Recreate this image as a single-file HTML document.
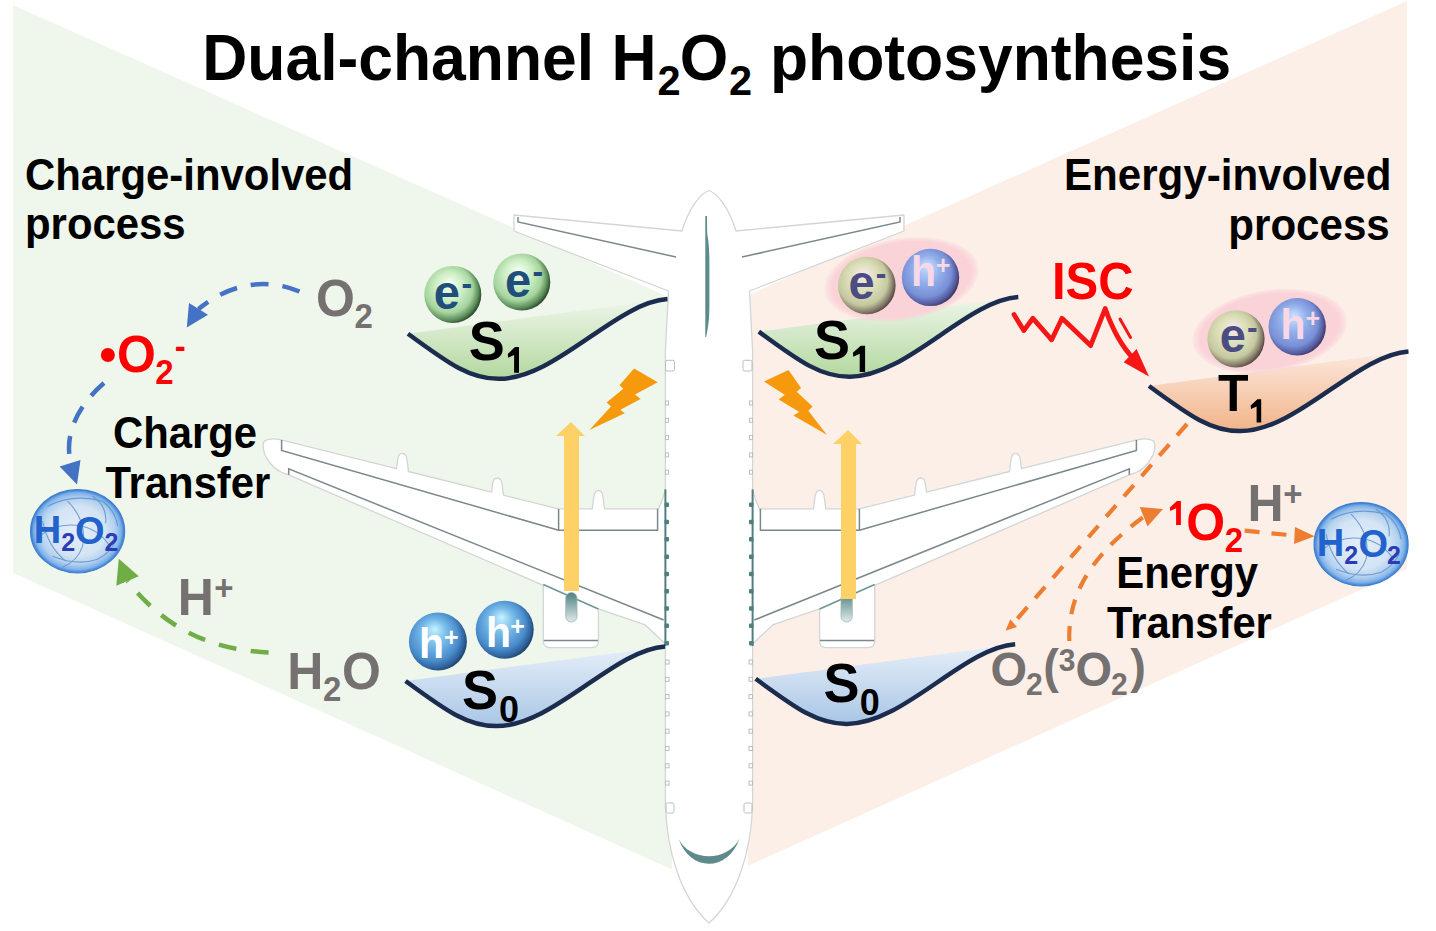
<!DOCTYPE html>
<html><head><meta charset="utf-8">
<style>
html,body{margin:0;padding:0;background:#fff;width:1436px;height:931px;overflow:hidden}
svg{display:block}
text{font-family:"Liberation Sans",sans-serif}
</style></head><body>
<svg width="1436" height="931" viewBox="0 0 1436 931">
<defs>
  <radialGradient id="gPk" cx="0.5" cy="0.5" r="0.5"><stop offset="0" stop-color="#fad3d8"/><stop offset="0.9" stop-color="#fad3d8"/><stop offset="1" stop-color="#fad3d8" stop-opacity="0.25"/></radialGradient>
  <linearGradient id="gS1" x1="0" y1="0" x2="0" y2="1">
    <stop offset="0" stop-color="#eef6ea"/><stop offset="1" stop-color="#b3d89f"/>
  </linearGradient>
  <linearGradient id="gS0" x1="0" y1="0" x2="0" y2="1">
    <stop offset="0" stop-color="#e6eff8"/><stop offset="1" stop-color="#a9c6e6"/>
  </linearGradient>
  <linearGradient id="gT1" x1="0" y1="0" x2="0" y2="1">
    <stop offset="0" stop-color="#fbe9de"/><stop offset="1" stop-color="#f2b48a"/>
  </linearGradient>
  <radialGradient id="bG" cx="0.42" cy="0.45" r="0.6" fx="0.45" fy="0.3">
    <stop offset="0" stop-color="#f6fff4"/><stop offset="0.4" stop-color="#cdeec6"/>
    <stop offset="0.7" stop-color="#a6d49e"/><stop offset="0.88" stop-color="#5a8a58"/><stop offset="1" stop-color="#1f3a22"/>
  </radialGradient>
  <radialGradient id="bB" cx="0.42" cy="0.45" r="0.6" fx="0.45" fy="0.28">
    <stop offset="0" stop-color="#c6f2ff"/><stop offset="0.35" stop-color="#78bdea"/>
    <stop offset="0.72" stop-color="#4a8ccc"/><stop offset="0.9" stop-color="#2d5f98"/><stop offset="1" stop-color="#1a3a62"/>
  </radialGradient>
  <radialGradient id="bE" cx="0.42" cy="0.45" r="0.6" fx="0.45" fy="0.3">
    <stop offset="0" stop-color="#fbe6ee"/><stop offset="0.4" stop-color="#dde0b9"/>
    <stop offset="0.72" stop-color="#c6c9a0"/><stop offset="0.9" stop-color="#7d7464"/><stop offset="1" stop-color="#4a3636"/>
  </radialGradient>
  <radialGradient id="bH" cx="0.42" cy="0.45" r="0.6" fx="0.45" fy="0.3">
    <stop offset="0" stop-color="#c8e2ff"/><stop offset="0.4" stop-color="#92aeea"/>
    <stop offset="0.72" stop-color="#7890d6"/><stop offset="0.9" stop-color="#52579a"/><stop offset="1" stop-color="#3a2e50"/>
  </radialGradient>
  <radialGradient id="bW" cx="0.5" cy="0.5" r="0.5">
    <stop offset="0" stop-color="#e4eef9"/><stop offset="0.6" stop-color="#d3e4f5"/>
    <stop offset="0.8" stop-color="#b3d0ef"/><stop offset="0.92" stop-color="#7fb3ea"/><stop offset="1" stop-color="#3a7cd0"/>
  </radialGradient>
</defs>

<!-- backgrounds -->
<polygon points="13.2,5.3 672,298.4 672,869.6 13.2,572.9" fill="#eff6eb"/>
<polygon points="747.7,295.5 1407,1 1407,569 747.7,866" fill="#fcefe8"/>

<!-- AIRPLANE -->
<path d="M709,190.5 C 700,194 689,208 682,231 L 514,215 L 514,231 L 668.5,291 L 665.4,351 L 665.4,489.4 Q 663,500 658.6,508.8 L 604.5,508.8 C 603,498.8 603.4,490.4 598.4,490.4 C 593.4,490.4 593.8,498.8 592.3,508.8 L 558.6,508.8 L 503.5,495.2 C 502,485.2 502.5,478 497.5,478 C 492.5,478 493,482.2 491.5,492.2 L 408.5,471.5 C 407,461.5 407.5,453.4 402.5,453.4 C 397.5,453.4 398,458.6 396.5,468.6 L 281,439.8 Q 270,437.5 264.5,441 Q 261.5,445 265,455 Q 273,471 288.2,474.7 L 543.3,585.3 L 543.3,641 Q 543.3,647.6 550,647.6 L 592,647.6 Q 598.4,647.6 598.4,641 L 598.4,608.8 L 644.7,624.6 L 663.5,642 L 665.4,644 L 665.4,806 C 667,850 680,897 709,923 C 738,897 751,850 752.6,806 L 752.6,644 L 754.5,642 L 773.3,624.6 L 819.6,608.8 L 819.6,641 Q 819.6,647.6 826,647.6 L 868,647.6 Q 874.7,647.6 874.7,641 L 874.7,585.3 L 1129.8,474.7 Q 1145,471 1153,455 Q 1156.5,445 1153.5,441 Q 1148,437.5 1137,439.8 L 1021.5,468.6 C 1020,458.6 1020.5,453.4 1015.5,453.4 C 1010.5,453.4 1011,461.5 1009.5,471.5 L 926.5,492.2 C 925,482.2 925.5,478 920.5,478 C 915.5,478 916,485.2 914.5,495.2 L 859.4,508.8 L 825.7,508.8 C 824.2,498.8 824.6,490.4 819.6,490.4 C 814.6,490.4 815,498.8 813.5,508.8 L 759.4,508.8 Q 755,500 752.6,489.4 L 752.6,351 L 749.5,291 L 904,231 L 904,215 L 736,231 C 729,208 718,194 709,190.5 Z" fill="#fff" stroke="#d3d6d6" stroke-width="1.3" stroke-linejoin="round"/>
<g fill="none" stroke="#7b878b" stroke-width="1.5"><polyline points="518,217 518,222 676,257"/><polyline points="900,217 900,222 742,257"/><polyline points="281.6,440 281.6,450.5 558.6,530.2 657.6,530.2 657.6,508.8"/><polyline points="1136.4,440 1136.4,450.5 859.4,530.2 760.4,530.2 760.4,508.8"/><polyline points="558.6,508.8 558.6,530.2"/><polyline points="859.4,508.8 859.4,530.2"/><polyline points="288.7,474.7 288.7,468.8 663.7,620"/><polyline points="1129.3,474.7 1129.3,468.8 754.3,620"/><polyline points="543.8,640.4 598,640.4"/><polyline points="874.2,640.4 820,640.4"/></g>
<g fill="none" stroke="#6f9595" stroke-width="1.6"><polyline points="543.3,584.6 598.4,609"/><polyline points="874.7,584.6 819.6,609"/></g>
<defs><linearGradient id="gPy" x1="0" y1="0" x2="0" y2="1"><stop offset="0" stop-color="#4f7f80"/><stop offset="1" stop-color="#dfeaea"/></linearGradient></defs>
<g fill="url(#gPy)" stroke="#9fb4b4" stroke-width="0.8"><rect x="565.7" y="592.5" width="11.3" height="29.5" rx="5.6"/><rect x="841" y="592.5" width="11.3" height="29.5" rx="5.6"/></g>
<g fill="#5d8a8a">
  <path d="M705.3,216 L706.9,216 L707.2,234 C 708.6,240 709.4,250 709.4,265 L 709.4,305 C 709.4,322 707.5,330 706.2,337 L 705.3,337 Z"/>
  <path d="M678.7,839 C 690,872 728,872 739.5,838.4 C 728,862 690,862 678.7,839 Z"/>
</g>
<g stroke="#4f7f7f" stroke-width="2" fill="none">
  <line x1="665.4" y1="489.4" x2="665.4" y2="646"/>
  <line x1="752.6" y1="489.4" x2="752.6" y2="646"/>
</g>
<g fill="#4f7f7f"><rect x="664.5" y="502.5" width="4.5" height="4.5" rx="1"/><rect x="749" y="502.5" width="4.5" height="4.5" rx="1"/><rect x="664.5" y="519.8" width="4.5" height="4.5" rx="1"/><rect x="749" y="519.8" width="4.5" height="4.5" rx="1"/><rect x="664.5" y="537.1" width="4.5" height="4.5" rx="1"/><rect x="749" y="537.1" width="4.5" height="4.5" rx="1"/><rect x="664.5" y="554.4" width="4.5" height="4.5" rx="1"/><rect x="749" y="554.4" width="4.5" height="4.5" rx="1"/><rect x="664.5" y="571.7" width="4.5" height="4.5" rx="1"/><rect x="749" y="571.7" width="4.5" height="4.5" rx="1"/><rect x="664.5" y="589" width="4.5" height="4.5" rx="1"/><rect x="749" y="589" width="4.5" height="4.5" rx="1"/><rect x="664.5" y="606.3" width="4.5" height="4.5" rx="1"/><rect x="749" y="606.3" width="4.5" height="4.5" rx="1"/><rect x="664.5" y="623.6" width="4.5" height="4.5" rx="1"/><rect x="749" y="623.6" width="4.5" height="4.5" rx="1"/><rect x="664.5" y="640.9" width="4.5" height="4.5" rx="1"/><rect x="749" y="640.9" width="4.5" height="4.5" rx="1"/></g>
<g fill="none" stroke="#b8c0c0" stroke-width="1"><rect x="665.5" y="660" width="3.5" height="4" /><rect x="749" y="660" width="3.5" height="4" /><rect x="665.5" y="677.3" width="3.5" height="4" /><rect x="749" y="677.3" width="3.5" height="4" /><rect x="665.5" y="694.6" width="3.5" height="4" /><rect x="749" y="694.6" width="3.5" height="4" /><rect x="665.5" y="711.9" width="3.5" height="4" /><rect x="749" y="711.9" width="3.5" height="4" /><rect x="665.5" y="729.2" width="3.5" height="4" /><rect x="749" y="729.2" width="3.5" height="4" /><rect x="665.5" y="746.5" width="3.5" height="4" /><rect x="749" y="746.5" width="3.5" height="4" /><rect x="665.5" y="763.8" width="3.5" height="4" /><rect x="749" y="763.8" width="3.5" height="4" /><rect x="665.5" y="781.1" width="3.5" height="4" /><rect x="749" y="781.1" width="3.5" height="4" /><rect x="665.5" y="401" width="3" height="4" /><rect x="749.5" y="401" width="3" height="4" /><rect x="665.5" y="418.3" width="3" height="4" /><rect x="749.5" y="418.3" width="3" height="4" /><rect x="665.5" y="435.6" width="3" height="4" /><rect x="749.5" y="435.6" width="3" height="4" /><rect x="665.5" y="452.9" width="3" height="4" /><rect x="749.5" y="452.9" width="3" height="4" /><rect x="665.5" y="470.2" width="3" height="4" /><rect x="749.5" y="470.2" width="3" height="4" /><rect x="665.5" y="360.3" width="9" height="10.7" rx="1.5"/><rect x="743" y="360.3" width="9" height="10.7" rx="1.5"/><rect x="666" y="803" width="8" height="10" rx="1.5"/><rect x="744" y="803" width="8" height="10" rx="1.5"/></g>

<!-- yellow arrows -->
<g fill="#fdd165">
  <polygon points="564,591 579,591 579,436 585,436 571,422 556,436 564,436"/>
  <polygon points="841,599 856,599 856,444 862,444 848,430 833,444 841,444"/>
</g>
<!-- bolts -->
<g fill="#f7990c">
  <polygon points="634.1,368.6 657.7,382.3 635,394.4 640.6,399 620.4,409.8 624.7,413.3 589.4,430 611,406.4 606.6,402.5 623.4,388.8 619.5,385.3"/>
  <polygon points="788.5,369.9 764,381.5 784.7,394.8 778.7,399.5 799.3,412 793.3,415.4 826.8,434.7 808.3,410.7 812.6,406.4 796.7,391.8 801,387.9"/>
</g>

<!-- wells -->
<path d="M408,333.7 C 450.5,365 470.5,378.8 498.5,378.8 C 555.5,379.5 615.5,302.5 667.5,299.1 Z" fill="url(#gS1)"/>
<path d="M408,333.7 C 450.5,365 470.5,378.8 498.5,378.8 C 555.5,379.5 615.5,302.5 667.5,299.1" fill="none" stroke="#1b2c4e" stroke-width="4.5"/>
<path d="M758.8,331.6 C 801.3,362.9 821.3,376.7 849.3,376.7 C 906.3,377.4 966.3,300.4 1018.3,297 Z" fill="url(#gS1)"/>
<path d="M758.8,331.6 C 801.3,362.9 821.3,376.7 849.3,376.7 C 906.3,377.4 966.3,300.4 1018.3,297" fill="none" stroke="#1b2c4e" stroke-width="4.5"/>
<path d="M1149,386 C 1191.5,417.3 1211.5,431.1 1239.5,431.1 C 1296.5,431.8 1356.5,354.8 1408.5,351.4 Z" fill="url(#gT1)"/>
<path d="M1149,386 C 1191.5,417.3 1211.5,431.1 1239.5,431.1 C 1296.5,431.8 1356.5,354.8 1408.5,351.4" fill="none" stroke="#1b2c4e" stroke-width="4.5"/>
<path d="M405.6,681 C 448.1,712.3 468.1,726.1 496.1,726.1 C 553.1,726.8 613.1,649.8 665.1,646.4 Z" fill="url(#gS0)"/>
<path d="M405.6,681 C 448.1,712.3 468.1,726.1 496.1,726.1 C 553.1,726.8 613.1,649.8 665.1,646.4" fill="none" stroke="#1b2c4e" stroke-width="4.5"/>
<path d="M755.7,678.8 C 798.2,710.1 818.2,723.9 846.2,723.9 C 903.2,724.6 963.2,647.6 1015.2,644.2 Z" fill="url(#gS0)"/>
<path d="M755.7,678.8 C 798.2,710.1 818.2,723.9 846.2,723.9 C 903.2,724.6 963.2,647.6 1015.2,644.2" fill="none" stroke="#1b2c4e" stroke-width="4.5"/>

<!-- pink ellipses -->
<ellipse cx="901.5" cy="279.5" rx="78" ry="41" transform="rotate(-9.3 901.5 279.5)" fill="url(#gPk)"/>
<ellipse cx="1269.7" cy="331" rx="78" ry="41" transform="rotate(-9.3 1269.7 331)" fill="url(#gPk)"/>

<!-- H2O2 balls -->
<g transform="translate(77.6 531.2)">
<ellipse cx="0" cy="0" rx="47" ry="41.6" fill="url(#bW)" stroke="#3d7fcf" stroke-width="1.2"/>
<g fill="none" stroke="#5e8fc6" stroke-width="1.1" opacity="0.8">
<path d="M-30,-25 Q-5,-38 25,-30 Q38,-20 40,-5"/>
<path d="M-38,5 Q-20,-10 5,-5 Q25,0 35,20"/>
<path d="M-25,25 Q0,35 20,28 Q32,22 38,10"/>
<path d="M-10,-30 Q10,-10 5,15 Q0,30 -15,36"/>
<path d="M15,-35 Q30,-25 28,-8"/>
<path d="M-35,-10 Q-30,15 -12,30"/>
</g></g>
<g transform="translate(1361.1 544.2)">
<ellipse cx="0" cy="0" rx="47" ry="41.6" fill="url(#bW)" stroke="#3d7fcf" stroke-width="1.2"/>
<g fill="none" stroke="#5e8fc6" stroke-width="1.1" opacity="0.8">
<path d="M-30,-25 Q-5,-38 25,-30 Q38,-20 40,-5"/>
<path d="M-38,5 Q-20,-10 5,-5 Q25,0 35,20"/>
<path d="M-25,25 Q0,35 20,28 Q32,22 38,10"/>
<path d="M-10,-30 Q10,-10 5,15 Q0,30 -15,36"/>
<path d="M15,-35 Q30,-25 28,-8"/>
<path d="M-35,-10 Q-30,15 -12,30"/>
</g></g>
<!-- balls -->
<circle cx="452.8" cy="294.4" r="28.5" fill="url(#bG)"/>
<circle cx="521.8" cy="282" r="28.5" fill="url(#bG)"/>
<circle cx="437.9" cy="641.5" r="29" fill="url(#bB)"/>
<circle cx="504.7" cy="629.7" r="29" fill="url(#bB)"/>
<circle cx="866.8" cy="285.5" r="28.8" fill="url(#bE)"/>
<circle cx="930.5" cy="277.4" r="28.7" fill="url(#bH)"/>
<circle cx="1236" cy="338.8" r="28.6" fill="url(#bE)"/>
<circle cx="1297.2" cy="326.8" r="28.7" fill="url(#bH)"/>

<circle cx="107.9" cy="355" r="7" fill="#ff0000"/>
<g font-weight="bold">
<path d="M515,346.9 L519,346.9 L519,372.7 L514.1,372.7 L514.1,354.9 L508.1,357.7 L507.8,353.9Z" fill="#000"/>
<path d="M860.7,345.7 L865.1,345.7 L865.1,371.9 L859.7,371.9 L859.7,353.8 L853.3,356.7 L852.9,352.8Z" fill="#000"/>
<path d="M1257.4,399.2 L1261.2,399.2 L1261.2,422.6 L1256.6,422.6 L1256.6,406.5 L1251,409 L1250.7,405.5Z" fill="#000"/>
<path d="M1176.9,500.9 L1180.9,500.9 L1180.9,524.9 L1176.1,524.9 L1176.1,508.3 L1170.2,511 L1169.9,507.4Z" fill="#ff0000"/>
<text transform="translate(202.3 79.9) scale(1 1.04)" font-size="62.4" fill="#000">Dual-channel H</text>
<text transform="translate(657.6 94.8) scale(1 1.04)" font-size="41.5" fill="#000">2</text>
<text transform="translate(679.8 79.6) scale(1 1.04)" font-size="62.4" fill="#000">O</text>
<text transform="translate(729 94.8) scale(1 1.04)" font-size="41.5" fill="#000">2</text>
<text transform="translate(770 79.9) scale(1 1.04)" font-size="62.4" fill="#000">photosynthesis</text>
<text transform="translate(25 189.7) scale(1 1.04)" font-size="41.9" fill="#000">Charge-involved</text>
<text transform="translate(25 239.1) scale(1 1.04)" font-size="41.9" fill="#000">process</text>
<text transform="translate(1064 189.7) scale(1 1.04)" font-size="42.1" fill="#000">Energy-involved</text>
<text transform="translate(1228.3 239.5) scale(1 1.04)" font-size="42.1" fill="#000">process</text>
<text transform="translate(113 447.6) scale(1 1.04)" font-size="41.8" fill="#000">Charge</text>
<text transform="translate(105.4 498) scale(1 1.04)" font-size="41.8" fill="#000">Transfer</text>
<text transform="translate(1116.3 587.6) scale(1 1.04)" font-size="41.8" fill="#000">Energy</text>
<text transform="translate(1107 638.1) scale(1 1.04)" font-size="41.8" fill="#000">Transfer</text>
<text transform="translate(468.8 359.7) scale(1 1.04)" font-size="54" fill="#000">S</text>
<text transform="translate(813.9 359) scale(1 1.04)" font-size="54" fill="#000">S</text>
<text transform="translate(462.1 708.9) scale(1 1.04)" font-size="54" fill="#000">S</text>
<text transform="translate(499 721.8) scale(1 1.04)" font-size="36" fill="#000">0</text>
<text transform="translate(823.5 702.2) scale(1 1.04)" font-size="54" fill="#000">S</text>
<text transform="translate(859.7 715) scale(1 1.04)" font-size="36" fill="#000">0</text>
<text transform="translate(1218 410.7) scale(1 1.04)" font-size="50" fill="#000">T</text>
<text transform="translate(316 315.7) scale(1 1.04)" font-size="50" fill="#767171">O</text>
<text transform="translate(354.4 327.7) scale(1 1.04)" font-size="33" fill="#767171">2</text>
<text transform="translate(117 371.5) scale(1 1.04)" font-size="50" fill="#ff0000">O</text>
<text transform="translate(155.3 384) scale(1 1.04)" font-size="33" fill="#ff0000">2</text>
<text transform="translate(174.8 357.9) scale(1 1.04)" font-size="33" fill="#ff0000">-</text>
<text transform="translate(177.7 615) scale(1 1.04)" font-size="50" fill="#767171">H</text>
<text transform="translate(214.2 599.8) scale(1 1.04)" font-size="33" fill="#767171">+</text>
<text transform="translate(287.3 688.7) scale(1 1.04)" font-size="50" fill="#767171">H</text>
<text transform="translate(323 701) scale(1 1.04)" font-size="33" fill="#767171">2</text>
<text transform="translate(341.9 688.5) scale(1 1.04)" font-size="50" fill="#767171">O</text>
<text transform="translate(1186.2 539.6) scale(1 1.04)" font-size="50" fill="#ff0000">O</text>
<text transform="translate(1224.8 552) scale(1 1.04)" font-size="33" fill="#ff0000">2</text>
<text transform="translate(1247.4 520.7) scale(1 1.04)" font-size="50" fill="#767171">H</text>
<text transform="translate(1283.3 506) scale(1 1.04)" font-size="33" fill="#767171">+</text>
<text transform="translate(990.5 686) scale(1 1.04)" font-size="47" fill="#767171">O</text>
<text transform="translate(1026 694.6) scale(1 1.04)" font-size="30" fill="#767171">2</text>
<text transform="translate(1043.3 683.4) scale(1 1.04)" font-size="47" fill="#767171">(</text>
<text transform="translate(1058.7 671) scale(1 1.04)" font-size="30" fill="#767171">3</text>
<text transform="translate(1075.5 686) scale(1 1.04)" font-size="47" fill="#767171">O</text>
<text transform="translate(1111 694.6) scale(1 1.04)" font-size="30" fill="#767171">2</text>
<text transform="translate(1130.3 683.4) scale(1 1.04)" font-size="47" fill="#767171">)</text>
<text transform="translate(1051.9 298.8) scale(1 1.04)" font-size="49" fill="#ff0000">ISC</text>
<text transform="translate(433.8 308.5) scale(1 1.04)" font-size="47" fill="#1f4e7a">e</text>
<text transform="translate(461.5 294.6) scale(1 1.04)" font-size="32" fill="#1f4e7a">-</text>
<text transform="translate(504.9 296.5) scale(1 1.04)" font-size="47" fill="#1f4e7a">e</text>
<text transform="translate(532.5 282.6) scale(1 1.04)" font-size="32" fill="#1f4e7a">-</text>
<text transform="translate(419.1 658) scale(1 1.04)" font-size="41" fill="#ffffff">h</text>
<text transform="translate(444 645.9) scale(1 1.04)" font-size="25" fill="#ffffff">+</text>
<text transform="translate(485.9 646.8) scale(1 1.04)" font-size="41" fill="#ffffff">h</text>
<text transform="translate(510.3 634.7) scale(1 1.04)" font-size="25" fill="#ffffff">+</text>
<text transform="translate(848.5 298.6) scale(1 1.04)" font-size="47" fill="#4b4c82">e</text>
<text transform="translate(875.8 285.2) scale(1 1.04)" font-size="32" fill="#4b4c82">-</text>
<text transform="translate(910.9 286) scale(1 1.04)" font-size="41" fill="#f8d8e6">h</text>
<text transform="translate(935.8 273.8) scale(1 1.04)" font-size="25" fill="#f8d8e6">+</text>
<text transform="translate(1219.7 352.4) scale(1 1.04)" font-size="47" fill="#4b4c82">e</text>
<text transform="translate(1246.9 338.8) scale(1 1.04)" font-size="32" fill="#4b4c82">-</text>
<text transform="translate(1280.6 339) scale(1 1.04)" font-size="41" fill="#f8d8e6">h</text>
<text transform="translate(1305.4 327.1) scale(1 1.04)" font-size="25" fill="#f8d8e6">+</text>
<text transform="translate(33.7 542.6) scale(1 1.04)" font-size="38" fill="#2162cc">H</text>
<text transform="translate(61.2 550.8) scale(1 1.04)" font-size="25" fill="#2b3db4">2</text>
<text transform="translate(75 543.7) scale(1 1.04)" font-size="38" fill="#2162cc">O</text>
<text transform="translate(104.6 550.8) scale(1 1.04)" font-size="25" fill="#2b3db4">2</text>
<text transform="translate(1316.8 556.2) scale(1 1.04)" font-size="38" fill="#2162cc">H</text>
<text transform="translate(1344.3 563.9) scale(1 1.04)" font-size="25" fill="#2b3db4">2</text>
<text transform="translate(1358.6 557) scale(1 1.04)" font-size="38" fill="#2162cc">O</text>
<text transform="translate(1387.1 563.9) scale(1 1.04)" font-size="25" fill="#2b3db4">2</text>
</g>
<!-- dashed arrows -->
<g fill="none" stroke-width="4.5">
  <path d="M299.5,291.5 C 280,283 240,275 198.5,309" stroke="#4472c4" stroke-dasharray="18 14"/>
  <path d="M104,383 C 82,402 69,425 69,448 L 69.5,462" stroke="#4472c4" stroke-dasharray="18 14"/>
  <path d="M268.6,652.5 C 220,650 170,635 127.5,581" stroke="#70ad47" stroke-dasharray="18 14.5"/>
</g>
<g fill="none" stroke-width="4.2" stroke="#ed7d31">
  <path d="M1187,424 L1013.6,623" stroke-dasharray="15 12"/>
  <path d="M1069.3,641 C 1068,600 1085,560 1143.7,516.7" stroke-dasharray="15 12"/>
  <path d="M1244.6,530.7 L1294.5,535.5" stroke-dasharray="15 12"/>
</g>
<g>
  <polygon points="186.8,327.5 189,303 208,314.8" fill="#4472c4"/>
  <polygon points="77,484.6 59.6,466.4 80.5,460" fill="#4472c4"/>
  <polygon points="118.8,558.8 116.3,585.7 138.8,576.3" fill="#70ad47"/>
  <polygon points="1005.5,630.8 1010.3,619.2 1017,627" fill="#ed7d31"/>
  <polygon points="1163,509 1139.8,507 1147.5,526.4" fill="#ed7d31"/>
  <polygon points="1314.6,536.3 1295,527 1294,544" fill="#ed7d31"/>
</g>

<!-- ISC squiggle -->
<g fill="none" stroke="#f51616" stroke-width="4.8" stroke-linejoin="round" stroke-linecap="round">
  <path d="M1014,314.5 L1023.8,330.6 L1032.9,318.3 L1051.7,339.8 L1062,318.3 L1090.6,345.6 L1105.2,308.6 C 1112,328 1121,346 1134,359"/>
  <path d="M1120,319 L1130.5,337.5" stroke-width="3"/>
</g>
<polygon points="1149,376.5 1123.7,362.3 1136.6,349" fill="#f51616"/>

</svg>
</body></html>
